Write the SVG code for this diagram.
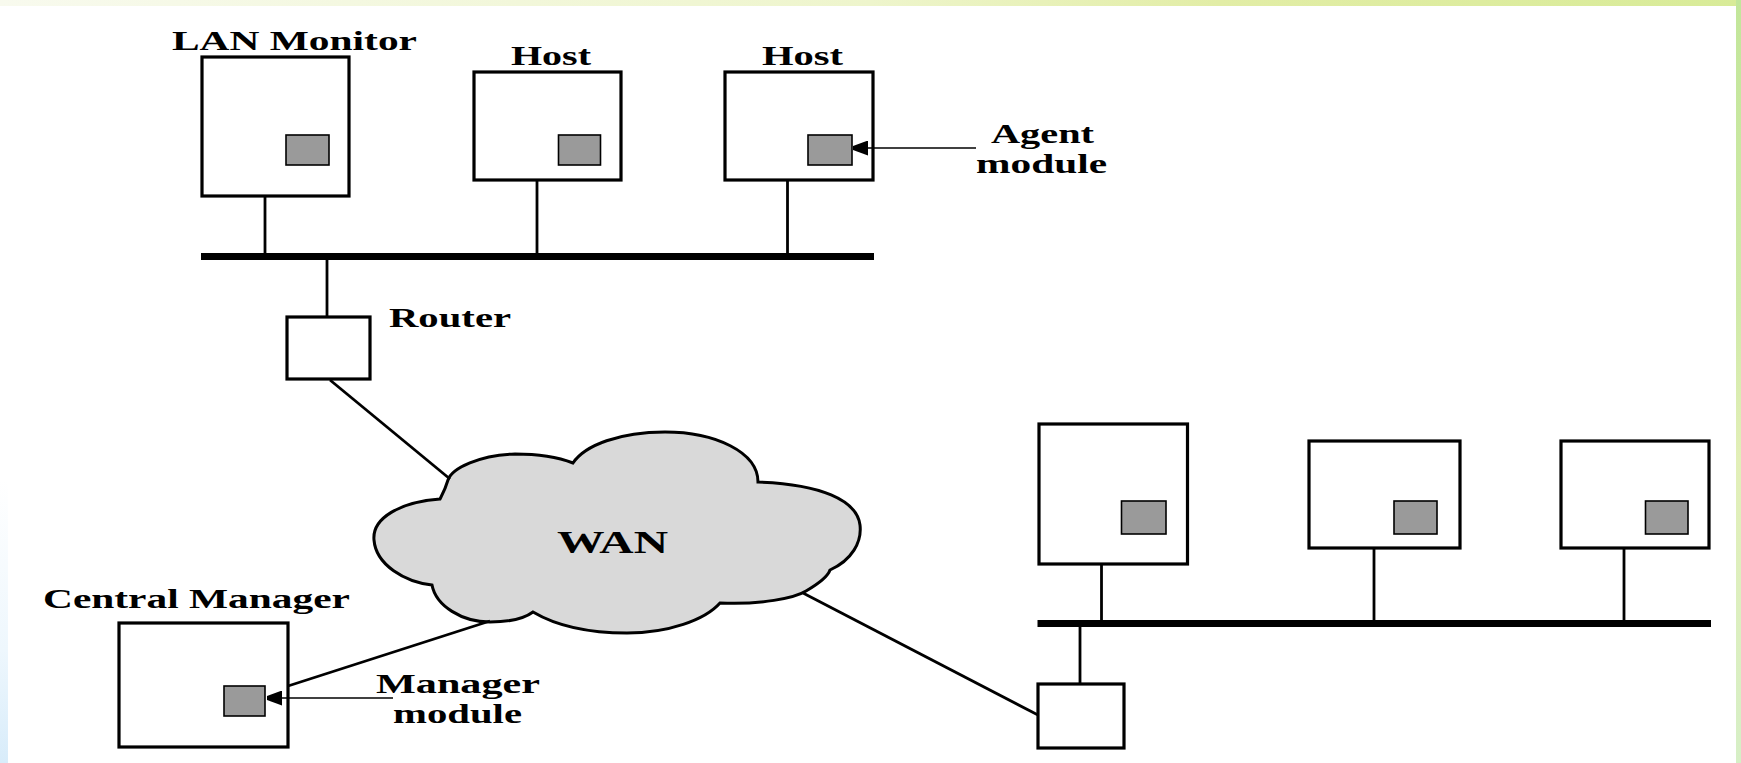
<svg xmlns="http://www.w3.org/2000/svg" width="1741" height="763" viewBox="0 0 1741 763">
  <defs>
    <linearGradient id="topBand" x1="0" y1="0" x2="1" y2="0">
      <stop offset="0" stop-color="#f8faee"/>
      <stop offset="0.5" stop-color="#eef5cc"/>
      <stop offset="0.7" stop-color="#e2eda6"/>
      <stop offset="1" stop-color="#d8eb98"/>
    </linearGradient>
    <linearGradient id="rightBand" x1="0" y1="0" x2="0" y2="1">
      <stop offset="0" stop-color="#c2e69a"/>
      <stop offset="0.4" stop-color="#cfeaa8"/>
      <stop offset="0.6" stop-color="#e2efb8"/>
      <stop offset="1" stop-color="#d6efc6"/>
    </linearGradient>
    <linearGradient id="leftBand" x1="0" y1="0" x2="0" y2="1">
      <stop offset="0" stop-color="#ffffff"/>
      <stop offset="0.6" stop-color="#eef7fd"/>
      <stop offset="1" stop-color="#d8ecfa"/>
    </linearGradient>
    <marker id="arrow" viewBox="0 0 10 10" refX="10" refY="5" markerWidth="27" markerHeight="15" markerUnits="userSpaceOnUse" orient="auto">
      <path d="M0,0 L10,3.6 L10,6.4 L0,10 Z" fill="#000"/>
    </marker>
    <style>
      .box { fill: #ffffff; stroke: #000; stroke-width: 3.2; }
      .mod { fill: #9a9a9a; stroke: #000; stroke-width: 1.6; }
      .drop { stroke: #000; stroke-width: 2.8; fill: none; }
      .bus { stroke: #000; stroke-width: 7; fill: none; }
      .link { stroke: #000; stroke-width: 2.8; fill: none; }
      .pointer { stroke: #000; stroke-width: 1.6; fill: none; }
      .lbl { font-family: "Liberation Serif", "Times New Roman", serif; font-weight: bold; font-size: 28px; fill: #000; }
      .cloud { fill: #d9d9d9; stroke: #000; stroke-width: 3; }
    </style>
  </defs>

  <!-- background -->
  <rect x="0" y="0" width="1741" height="763" fill="#ffffff"/>
  <rect x="0" y="0" width="1741" height="6" fill="url(#topBand)"/>
  <rect x="1736" y="0" width="5" height="763" fill="url(#rightBand)"/>
  <rect x="0" y="480" width="8" height="283" fill="url(#leftBand)"/>

  <!-- top LAN -->
  <g id="lan-monitor">
    <rect class="box" x="202" y="57" width="147" height="139"/>
    <rect class="mod" x="286" y="135" width="43" height="30"/>
    <text class="lbl" x="172" y="50" textLength="245" lengthAdjust="spacingAndGlyphs">LAN Monitor</text>
  </g>
  <g id="host-1">
    <rect class="box" x="474" y="72" width="147" height="108"/>
    <rect class="mod" x="558.5" y="135" width="42" height="30"/>
    <text class="lbl" x="511" y="65" textLength="80" lengthAdjust="spacingAndGlyphs">Host</text>
  </g>
  <g id="host-2">
    <rect class="box" x="725" y="72" width="148" height="108"/>
    <rect class="mod" x="808" y="135" width="44" height="30"/>
    <text class="lbl" x="762" y="65" textLength="81" lengthAdjust="spacingAndGlyphs">Host</text>
  </g>
  <g id="agent-module-label">
    <text class="lbl" x="991" y="143" textLength="103" lengthAdjust="spacingAndGlyphs">Agent</text>
    <text class="lbl" x="976" y="173" textLength="131" lengthAdjust="spacingAndGlyphs">module</text>
  </g>
  <g id="router-1">
    <rect class="box" x="287" y="317" width="83" height="62"/>
    <text class="lbl" x="389" y="327" textLength="122" lengthAdjust="spacingAndGlyphs">Router</text>
  </g>

  <!-- WAN cloud -->
  <g id="wan">
    <path class="cloud" d="M440,499
      C400,502 372,518 374,540
      C376,565 405,582 432,585
      C436,606 462,622 490,622
      C510,622 525,618 533,612
      C560,628 595,633 627,633
      C668,633 705,620 720,603
      C760,605 795,598 806,591
      C818,584 828,576 830,570
      C852,560 862,542 860,525
      C857,500 820,484 758,482
      C758,452 715,432 665,432
      C620,432 585,445 573,463
      C555,456 535,454 515,454
      C480,455 452,468 448,480
      C445,490 442,495 440,499 Z"/>
    <text class="lbl" x="557" y="553" textLength="111" lengthAdjust="spacingAndGlyphs" style="font-size:32px">WAN</text>
  </g>

  <!-- central manager -->
  <g id="central-manager">
    <rect class="box" x="119" y="623" width="169" height="124"/>
    <rect class="mod" x="224" y="686" width="41" height="30"/>
    <text class="lbl" x="43" y="608" textLength="307" lengthAdjust="spacingAndGlyphs">Central Manager</text>
  </g>
  <g id="manager-module-label">
    <text class="lbl" x="376" y="693" textLength="164" lengthAdjust="spacingAndGlyphs">Manager</text>
    <text class="lbl" x="393" y="723" textLength="129" lengthAdjust="spacingAndGlyphs">module</text>
  </g>

  <!-- remote LAN -->
  <g id="remote-host-1">
    <rect class="box" x="1039" y="424" width="148.5" height="140"/>
    <rect class="mod" x="1121.5" y="501" width="44.5" height="33"/>
  </g>
  <g id="remote-host-2">
    <rect class="box" x="1309" y="441" width="151" height="107"/>
    <rect class="mod" x="1394" y="501" width="43" height="33"/>
  </g>
  <g id="remote-host-3">
    <rect class="box" x="1561" y="441" width="148" height="107"/>
    <rect class="mod" x="1645.5" y="501" width="42.5" height="33"/>
  </g>
  <g id="router-2">
    <rect class="box" x="1038" y="684" width="86" height="64"/>
  </g>

  <!-- connectors -->
  <g id="connectors">
    <line class="bus" x1="201" y1="256.5" x2="874" y2="256.5"/>
    <line class="drop" x1="265" y1="197" x2="265" y2="254"/>
    <line class="drop" x1="537" y1="181" x2="537" y2="254"/>
    <line class="drop" x1="787.5" y1="181" x2="787.5" y2="254"/>
    <line class="drop" x1="327" y1="259" x2="327" y2="316"/>
    <line class="link" x1="330" y1="380" x2="450" y2="479"/>
    <line class="link" x1="490" y1="621" x2="288" y2="686"/>
    <line class="link" x1="803" y1="593" x2="1038" y2="715"/>
    <line class="bus" x1="1037.5" y1="623.5" x2="1711" y2="623.5"/>
    <line class="drop" x1="1101.5" y1="565" x2="1101.5" y2="621"/>
    <line class="drop" x1="1374" y1="549" x2="1374" y2="621"/>
    <line class="drop" x1="1624" y1="549" x2="1624" y2="621"/>
    <line class="drop" x1="1080" y1="626" x2="1080" y2="683"/>
    <line class="pointer" x1="976" y1="148" x2="853" y2="148" marker-end="url(#arrow)"/>
    <line class="pointer" x1="393" y1="698" x2="267" y2="698" marker-end="url(#arrow)"/>
  </g>
</svg>
